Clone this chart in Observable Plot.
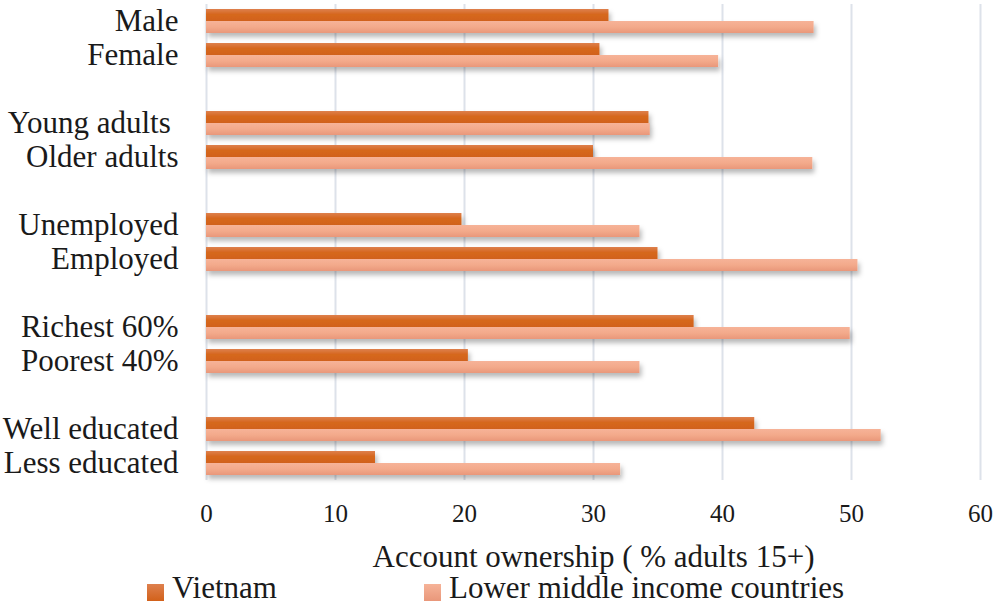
<!DOCTYPE html>
<html>
<head>
<meta charset="utf-8">
<script src="https://cdn.jsdelivr.net/npm/d3@7"></script>
<script src="https://cdn.jsdelivr.net/npm/@observablehq/plot@0.6"></script>
<style>
  html, body { margin: 0; padding: 0; background: #fff; overflow: hidden; }
  #chart { width: 995px; height: 578px; }
  #legend { position: relative; width: 995px; height: 29px; font-family: "Liberation Serif", serif; font-size: 31px; color: #1a1a1a; }
  .sw { position: absolute; width: 17px; height: 17px; top: 6px; }
  .lt { position: absolute; top: -4px; line-height: 28px; white-space: nowrap; }
</style>
</head>
<body>
<div id="chart"></div>
<div id="legend"></div>
<script>
// ---- data ----
const groups = [
  ["Male", "Female"],
  ["Young adults", "Older adults"],
  ["Unemployed", "Employed"],
  ["Richest 60%", "Poorest 40%"],
  ["Well educated", "Less educated"]
];
const categories = groups.flat();
const vietnam = [31.2, 30.5, 34.3, 30.0, 19.8, 35.0, 37.8, 20.3, 42.5, 13.1];
const lmi     = [47.1, 39.7, 34.4, 47.0, 33.6, 50.5, 49.9, 33.6, 52.3, 32.1];
const xTicks = [0, 10, 20, 30, 40, 50, 60];
const seriesNames = ["Vietnam", "Lower middle income countries"];
const xLabel = "Account ownership ( % adults 15+)";

// ---- build table ----
const table = categories.map((c, i) => ({category: c, vietnam: vietnam[i], lmi: lmi[i]}));
const slots = groups.flatMap((g, i) => i ? ["gap" + i, ...g] : g);

const chart = Plot.plot({
  width: 995,
  height: 578,
  marginLeft: 206,
  marginRight: 15,
  marginTop: 4,
  marginBottom: 98,
  style: {fontFamily: "'Liberation Serif', serif", background: "white", color: "#1a1a1a", overflow: "visible"},
  x: {domain: [0, 60]},
  y: {domain: slots, padding: 0, label: null},
  marks: [
    Plot.gridX(xTicks, {stroke: "#dde2ea", strokeOpacity: 1, strokeWidth: 2}),
    Plot.axisX(xTicks, {tickSize: 0, tickPadding: 24, fontSize: 25, label: xLabel, labelAnchor: "center", labelArrow: "none", labelOffset: 86}),
    Plot.axisY({tickSize: 0, tickPadding: 28, fontSize: 31, label: null,
      tickFormat: d => d.startsWith("gap") ? "" : (d === "Young adults" ? d + "\u00a0" : d)}),
    Plot.barX(table, {x: "vietnam", y: "category", fill: "url(#gV)", insetTop: 5, insetBottom: 16}),
    Plot.barX(table, {x: "lmi", y: "category", fill: "url(#gL)", insetTop: 17, insetBottom: 5})
  ]
});

// gradients and shadow
const ns = "http://www.w3.org/2000/svg";
const defs = document.createElementNS(ns, "defs");
defs.innerHTML = `
  <linearGradient id="gV" x1="0" y1="0" x2="0" y2="1">
    <stop offset="0" stop-color="#de804e"/>
    <stop offset="0.4" stop-color="#d6681f"/>
    <stop offset="1" stop-color="#d2611a"/>
  </linearGradient>
  <linearGradient id="gL" x1="0" y1="0" x2="0" y2="1">
    <stop offset="0" stop-color="#f6b398"/>
    <stop offset="0.5" stop-color="#f3aa8b"/>
    <stop offset="1" stop-color="#e9977a"/>
  </linearGradient>
  <filter id="shadow" x="-5%" y="-50%" width="110%" height="250%">
    <feDropShadow dx="2" dy="4" stdDeviation="2.5" flood-color="#000" flood-opacity="0.28"/>
  </filter>`;
chart.insertBefore(defs, chart.firstChild);
chart.querySelectorAll('g[aria-label="bar"]').forEach(g => g.setAttribute("filter", "url(#shadow)"));
const lab = chart.querySelector('g[aria-label="x-axis label"]');
if (lab) lab.setAttribute("font-size", 31);
document.getElementById("chart").appendChild(chart);

// legend
const legendColors = ["linear-gradient(#de804e, #d2611a)", "linear-gradient(#f6b398, #e9977a)"];
const swatchX = [147, 424];
const legend = document.getElementById("legend");
seriesNames.forEach((name, i) => {
  const s = document.createElement("div");
  s.className = "sw";
  s.style.left = swatchX[i] + "px";
  s.style.background = legendColors[i];
  legend.appendChild(s);
  const t = document.createElement("div");
  t.className = "lt";
  t.style.left = (swatchX[i] + 25) + "px";
  t.textContent = name;
  legend.appendChild(t);
});
</script>
</body>
</html>
